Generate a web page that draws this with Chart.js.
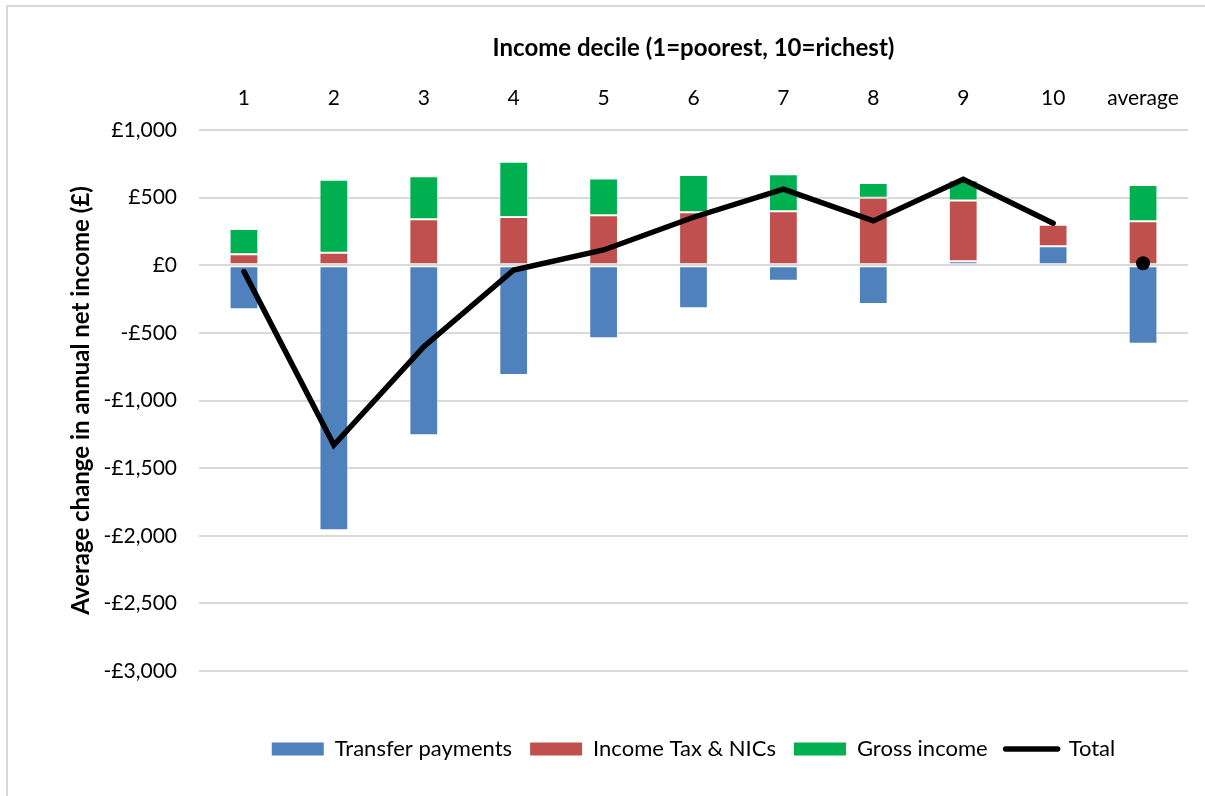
<!DOCTYPE html>
<html>
<head>
<meta charset="utf-8">
<script src="https://cdn.jsdelivr.net/npm/chart.js@4/dist/chart.umd.min.js"></script>
<style>
  html, body { margin: 0; padding: 0; background: #fff; }
  #wrap { position: relative; width: 1205px; height: 796px; overflow: hidden; }
  #frame { position: absolute; left: 6px; top: 5px; width: 1300px; height: 900px;
           border: 2px solid #d9d9d9; pointer-events: none; }
  canvas { position: absolute; left: 0; top: 0; }
</style>
</head>
<body>
<div id="wrap">
  <canvas id="chart" width="1205" height="796"></canvas>
  <div id="frame"></div>
</div>
<script>
const categories = ['1', '2', '3', '4', '5', '6', '7', '8', '9', '10', 'average'];
const transferPayments = [-325, -1960, -1257, -811, -540, -318, -114, -286, 30, 140, -580];
const incomeTaxNics = [81, 93, 340, 357, 370, 392, 399, 500, 448, 160, 325];
const grossIncome = [187, 540, 318, 409, 271, 276, 274, 109, 151, 13, 269];
const total = [-47, -1329, -602, -35, 113, 355, 562, 328, 636, 311, 15];
const yTicks = [1000, 500, 0, -500, -1000, -1500, -2000, -2500, -3000];

const FONT = "Lato, 'Open Sans', sans-serif";
const lastIndex = categories.length - 1;

function money(v) {
  const s = '£' + Math.abs(v).toLocaleString('en-GB');
  return v < 0 ? '-' + s : s;
}

const barBase = {
  type: 'bar',
  stack: 'parts',
  borderWidth: 1,
  borderColor: 'rgba(255,255,255,0.4)',
  borderSkipped: false,
  barPercentage: 0.32,
  categoryPercentage: 1,
};

new Chart(document.getElementById('chart'), {
  data: {
    labels: categories,
    datasets: [
      { ...barBase, label: 'Transfer payments', data: transferPayments, backgroundColor: '#4f81bd' },
      { ...barBase, label: 'Income Tax & NICs', data: incomeTaxNics, backgroundColor: '#c0504d' },
      { ...barBase, label: 'Gross income', data: grossIncome, backgroundColor: '#00b050' },
      {
        type: 'line',
        label: 'Total',
        stack: 'total',
        order: -1,
        data: total,
        borderColor: '#000',
        backgroundColor: '#000',
        borderWidth: 5.5,
        borderCapStyle: 'round',
        tension: 0,
        pointRadius: (ctx) => (ctx.dataIndex === lastIndex ? 7 : 0),
        pointHoverRadius: (ctx) => (ctx.dataIndex === lastIndex ? 7 : 0),
        pointBackgroundColor: '#000',
        pointBorderWidth: 0,
        segment: {
          borderColor: (ctx) => (ctx.p1DataIndex === lastIndex ? 'rgba(0,0,0,0)' : '#000'),
        },
      },
    ],
  },
  options: {
    responsive: false,
    animation: false,
    layout: { padding: { left: 67, right: 17, top: 34, bottom: 26 } },
    plugins: {
      tooltip: { enabled: false },
      legend: {
        position: 'bottom',
        fullSize: false,
        title: { display: true, text: '', font: { size: 10 }, padding: { top: 37, bottom: 0 } },
        labels: {
          usePointStyle: true,
          pointStyleWidth: 52,
          boxHeight: 13,
          padding: 18,
          color: '#000',
          font: { family: FONT, size: 22 },
          sort: (a, b) => a.datasetIndex - b.datasetIndex,
          generateLabels(chart) {
            const items = Chart.defaults.plugins.legend.labels.generateLabels(chart);
            items.forEach((item) => {
              if (item.text === 'Total') {
                item.pointStyle = 'line';
                item.strokeStyle = '#000';
                item.lineWidth = 5.5;
                item.lineCap = 'round';
              } else {
                item.pointStyle = 'rect';
                item.lineWidth = 0;
              }
            });
            return items;
          },
        },
      },
    },
    scales: {
      x: {
        position: 'top',
        stacked: true,
        grid: { display: false, drawTicks: false },
        border: { display: false },
        ticks: { color: '#000', padding: 19, font: { family: FONT, size: 21 } },
        title: {
          display: true,
          text: 'Income decile (1=poorest, 10=richest)',
          color: '#000',
          font: { family: FONT, size: 24, weight: 'bold' },
          padding: { top: 0, bottom: 8 },
        },
        afterFit: (scale) => { scale.height = 130 - 34; },
      },
      y: {
        stacked: true,
        min: yTicks[yTicks.length - 1],
        max: yTicks[0],
        afterBuildTicks: (scale) => { scale.ticks = yTicks.map((v) => ({ value: v })); },
        grid: { color: '#d9d9d9', lineWidth: 2, drawTicks: false },
        border: { display: false },
        ticks: {
          color: '#000',
          padding: 22,
          font: { family: FONT, size: 21 },
          callback: (v) => money(v),
        },
        title: {
          display: true,
          text: 'Average change in annual net income (£)',
          color: '#000',
          font: { family: FONT, size: 24, weight: 'bold' },
          padding: { top: 0, bottom: 4 },
        },
        afterFit: (scale) => { scale.width = 199 - 67; },
      },
    },
  },
});
</script>
</body>
</html>
